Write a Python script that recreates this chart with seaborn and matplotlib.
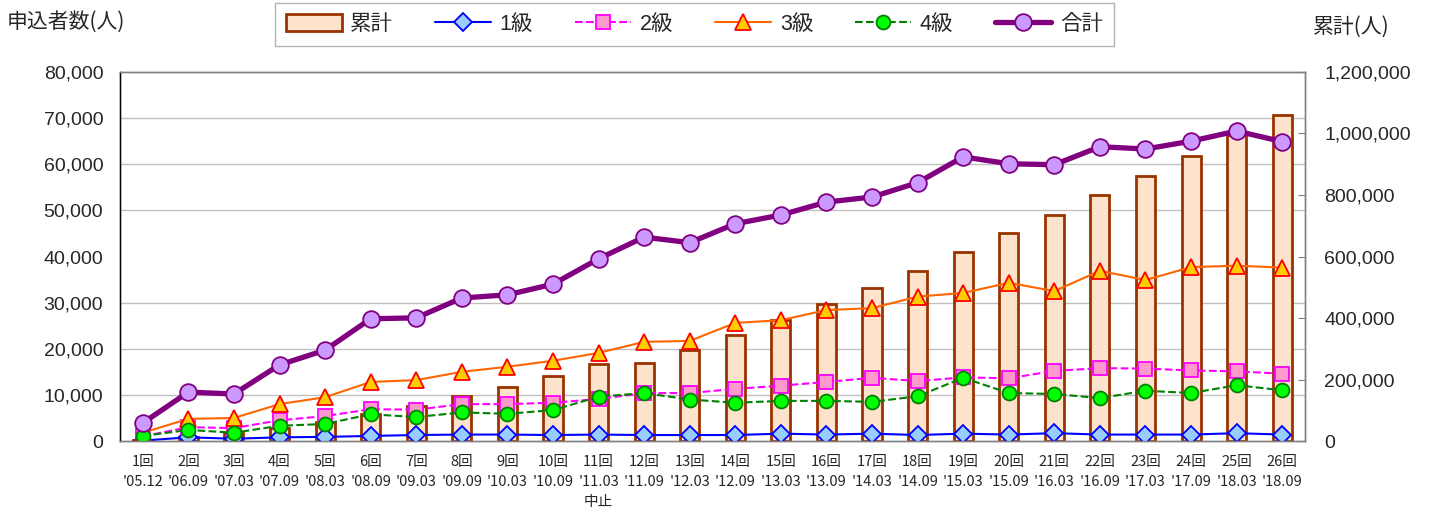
import numpy as np
import pandas as pd
import matplotlib
matplotlib.use("Agg")
import matplotlib.pyplot as plt
from matplotlib.ticker import MultipleLocator, FuncFormatter, FixedLocator
import seaborn as sns

# 回次 / 実施年月
rounds = [f"{i}回" for i in range(1, 27)]
dates = ["'05.12", "'06.09", "'07.03", "'07.09", "'08.03", "'08.09", "'09.03", "'09.09",
         "'10.03", "'10.09", "'11.03", "'11.09", "'12.03", "'12.09", "'13.03", "'13.09",
         "'14.03", "'14.09", "'15.03", "'15.09", "'16.03", "'16.09", "'17.03", "'17.09",
         "'18.03", "'18.09"]
notes = {10: "中止"}

grade1 = [100, 800, 500, 800, 900, 1100, 1300, 1400, 1400, 1300, 1400, 1300, 1300,
          1300, 1600, 1400, 1600, 1300, 1600, 1400, 1700, 1400, 1400, 1400, 1700, 1400]
grade2 = [1000, 3000, 2800, 4500, 5400, 6900, 6800, 8000, 8000, 8300, 9100, 10400, 10400,
          11300, 12000, 12800, 13700, 13000, 13800, 13600, 15200, 15800, 15700, 15300, 15100, 14600]
grade3 = [1800, 4800, 5000, 8000, 9500, 12800, 13200, 15000, 16100, 17400, 19100, 21500, 21700,
          25600, 26200, 28400, 28800, 31300, 32100, 34300, 32500, 36900, 34900, 37700, 38000, 37600]
grade4 = [1100, 2400, 1800, 3300, 3700, 5800, 5200, 6200, 5900, 6700, 9600, 10400, 9000,
          8300, 8700, 8700, 8500, 9700, 13700, 10400, 10200, 9300, 10900, 10400, 12100, 11000]
total = [3900, 10600, 10200, 16500, 19700, 26500, 26700, 31000, 31700, 34000, 39500, 44200, 43000,
         47100, 49000, 51800, 52900, 56000, 61600, 60100, 59900, 63800, 63300, 65000, 67200, 64900]
cumulative = [3900, 14500, 24700, 41200, 60900, 87400, 114100, 145100, 176800, 210800, 250300,
              254000, 297000, 344100, 393100, 444900, 497800, 553800, 615400, 675500, 735400,
              799200, 862500, 927500, 994700, 1059600]

df = pd.DataFrame({"pos": np.arange(len(rounds)), "g1": grade1, "g2": grade2, "g3": grade3,
                   "g4": grade4, "total": total, "cum": cumulative})

sns.set_style("white")
plt.rcParams["font.family"] = ["Liberation Sans", "Noto Sans CJK JP", "DejaVu Sans"]

fig = plt.figure(figsize=(14.3, 5.16), dpi=100)
ax = fig.add_axes([0.0839, 0.1453, 0.8287, 0.7152])
ax2 = ax.twinx()

# 累計 bars on the right axis
sns.barplot(data=df, x="pos", y="cum", ax=ax2, color="#FDE3CC", edgecolor="#993300",
            linewidth=2, width=0.42, saturation=1, label="累計")
ax2.set_ylim(0, 1200000)
ax2.yaxis.set_major_locator(MultipleLocator(200000))
ax2.yaxis.set_minor_locator(MultipleLocator(150000))   # same rows as the left 10,000 grid
ax2.yaxis.set_major_formatter(FuncFormatter(lambda v, p: f"{v:,.0f}"))
ax2.grid(which="minor", axis="y", color="#C0C0C0", lw=1)
ax2.set_axisbelow(True)
ax2.tick_params(axis="y", which="major", direction="in", length=5, labelsize=14, pad=14,
                color="#808080")
ax2.tick_params(axis="y", which="minor", length=0)
ax2.set_ylabel("")

ax.set_zorder(ax2.get_zorder() + 1)
ax.patch.set_visible(False)

series = [
    ("g1", "1級", "#0000FF", "-", "D", "#99CCFF", "#0000FF", 9, 1.5),
    ("g2", "2級", "#FF00FF", "--", "s", "#FF99CC", "#FF00FF", 10, 1.5),
    ("g3", "3級", "#FF6600", "-", "^", "#FFCC00", "#FF0000", 12, 1.5),
    ("g4", "4級", "#008000", "--", "o", "#00FF00", "#008000", 10, 1.5),
    ("total", "合計", "#800080", "-", "o", "#CC99FF", "#800080", 12, 3.8),
]
for col, name, c, ls, mk, fc, ec, ms, lw in series:
    sns.lineplot(data=df, x="pos", y=col, ax=ax, color=c, linestyle=ls, lw=lw, marker=mk,
                 markersize=ms, markerfacecolor=fc, markeredgecolor=ec, markeredgewidth=1.3,
                 label=name)

for a in (ax, ax2):
    if a.get_legend() is not None:
        a.get_legend().remove()

ax.set_ylim(0, 80000)
ax.yaxis.set_major_locator(MultipleLocator(10000))
ax.yaxis.set_major_formatter(FuncFormatter(lambda v, p: f"{v:,.0f}"))
ax.tick_params(axis="y", length=0, labelsize=14, pad=12)
ax.set_xlim(-0.5, len(rounds) - 0.5)
labels = [f"{r}\n{d}" + (f"\n{notes[i]}" if i in notes else "") for i, (r, d) in enumerate(zip(rounds, dates))]
ax.set_xticks(df["pos"])
ax.set_xticklabels(labels, fontsize=10.5, linespacing=1.55, va="top",
                   fontfamily=["Noto Sans CJK JP", "DejaVu Sans"])
ax.xaxis.set_minor_locator(FixedLocator(np.arange(-0.5, len(rounds), 1)))
ax.tick_params(axis="x", which="major", length=0, pad=10)
ax.tick_params(axis="x", which="minor", direction="in", length=4, color="#808080")
ax.set_xlabel("")
ax.set_ylabel("")

for a in (ax, ax2):
    for s in a.spines.values():
        s.set_color("#808080")
        s.set_linewidth(1)
ax.spines["left"].set_color("#000000")

fig.text(0.005, 0.957, "申込者数(人)", fontsize=15, ha="left", va="center",
         fontfamily=["Noto Sans CJK JP"])
fig.text(0.918, 0.948, "累計(人)", fontsize=15, ha="left", va="center",
         fontfamily=["Noto Sans CJK JP"])

h2, l2 = ax2.get_legend_handles_labels()
h1, l1 = ax.get_legend_handles_labels()
leg = fig.legend(h2 + h1, l2 + l1, loc="center", bbox_to_anchor=(0.4855, 0.953), ncol=6,
                 frameon=True, fancybox=False, edgecolor="#A0A0A0",
                 handlelength=2.6, handleheight=0.8, columnspacing=1.95, handletextpad=0.4,
                 borderpad=0.5, prop={"family": ["Liberation Sans", "Noto Sans CJK JP"], "size": 15.5})
leg.get_frame().set_linewidth(1)

fig.savefig("out.png", dpi=100)
